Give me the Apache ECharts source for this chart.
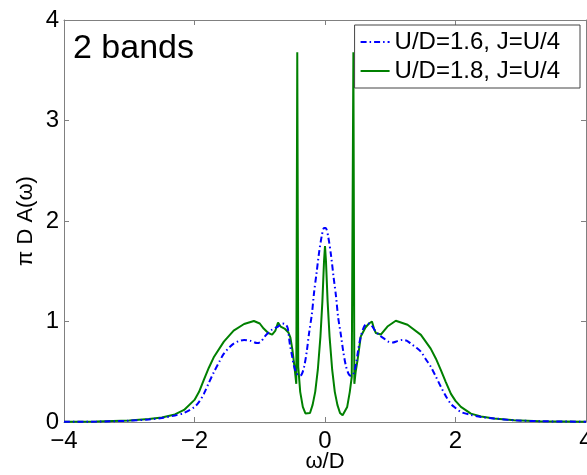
<!DOCTYPE html>
<html>
<head>
<meta charset="utf-8">
<script src="https://cdn.jsdelivr.net/npm/echarts@6/dist/echarts.min.js"></script>
<style>html,body{margin:0;padding:0;background:#fff}#c{width:587px;height:475px}</style>
</head>
<body>
<div id="c"></div>
<script>
// U/D=1.6, J=U/4 (blue dash-dot)
var omegaA = [-4.0,-3.5,-3.0,-2.7,-2.5,-2.3,-2.16,-2.0,-1.93,-1.857,-1.78,-1.70,-1.62,-1.55,-1.47,-1.40,-1.32,-1.24,-1.14,-1.04,-0.98,-0.925,-0.81,-0.72,-0.65,-0.60,-0.57,-0.54,-0.50,-0.476,-0.44,-0.40,-0.36,-0.32,-0.28,-0.245,-0.20,-0.169,-0.13,-0.092,-0.05,-0.015,0.01,0.05,0.092,0.13,0.169,0.20,0.245,0.28,0.32,0.36,0.394,0.43,0.47,0.51,0.548,0.60,0.65,0.70,0.778,0.84,0.906,0.97,1.034,1.11,1.188,1.25,1.315,1.40,1.469,1.55,1.622,1.70,1.776,1.85,1.93,2.0,2.083,2.236,2.39,2.59,2.9,3.3,4.0];
var specA  = [0.002,0.004,0.013,0.025,0.04,0.065,0.09,0.15,0.20,0.28,0.39,0.50,0.60,0.68,0.74,0.78,0.805,0.817,0.807,0.785,0.80,0.85,0.92,0.95,0.98,0.97,0.93,0.78,0.64,0.56,0.49,0.46,0.47,0.55,0.70,0.88,1.08,1.28,1.48,1.68,1.85,1.93,1.93,1.84,1.66,1.45,1.25,1.05,0.86,0.70,0.56,0.48,0.46,0.47,0.56,0.72,0.85,0.95,0.98,0.97,0.90,0.86,0.83,0.80,0.79,0.805,0.817,0.81,0.78,0.74,0.70,0.62,0.55,0.45,0.35,0.26,0.18,0.14,0.10,0.07,0.05,0.035,0.017,0.008,0.002];
// U/D=1.8, J=U/4 (green solid)
var omegaB = [-4.0,-3.5,-3.0,-2.7,-2.5,-2.3,-2.16,-2.0,-1.93,-1.857,-1.78,-1.70,-1.55,-1.40,-1.24,-1.09,-1.0,-0.94,-0.87,-0.81,-0.76,-0.72,-0.68,-0.62,-0.56,-0.53,-0.50,-0.47,-0.44,-0.425,-0.41,-0.38,-0.34,-0.30,-0.27,-0.23,-0.19,-0.15,-0.11,-0.07,-0.04,-0.015,0.0,0.015,0.04,0.07,0.11,0.15,0.19,0.23,0.27,0.30,0.34,0.38,0.41,0.435,0.45,0.47,0.50,0.548,0.62,0.675,0.72,0.75,0.78,0.855,0.957,1.085,1.265,1.47,1.62,1.70,1.776,1.85,1.93,2.0,2.083,2.236,2.39,2.59,2.9,3.3,4.0];
var specB  = [0.002,0.004,0.015,0.03,0.045,0.075,0.12,0.22,0.30,0.42,0.54,0.65,0.80,0.91,0.975,1.005,0.98,0.93,0.885,0.87,0.91,0.99,0.95,0.93,0.89,0.84,0.72,0.56,0.38,3.68,0.55,0.30,0.15,0.085,0.067,0.09,0.17,0.30,0.52,0.85,1.2,1.6,1.75,1.6,1.2,0.85,0.52,0.30,0.17,0.09,0.067,0.085,0.15,0.30,0.45,3.68,0.38,0.50,0.62,0.85,0.94,0.98,1.0,0.93,0.885,0.87,0.95,1.007,0.967,0.867,0.73,0.63,0.517,0.40,0.28,0.21,0.15,0.083,0.055,0.035,0.017,0.008,0.002];
var seriesNames = ['U/D=1.6, J=U/4', 'U/D=1.8, J=U/4'];
var xTicks = {min: -4, max: 4, interval: 2};
var yTicks = {min: 0, max: 4, interval: 1};

function pairs(xs, ys) { return xs.map(function (x, i) { return [x, ys[i]]; }); }
var FONT = '"Liberation Sans", Arial, Helvetica, sans-serif';
var frame = '#808080';
function fmt(v) { return v < 0 ? '\u2212' + (-v) : String(v); }

var chart = echarts.init(document.getElementById('c'), null, {renderer: 'canvas'});
chart.setOption({
  animation: false,
  backgroundColor: '#fff',
  textStyle: {fontFamily: FONT},
  grid: {left: 64, top: 20, right: 1, bottom: 53, containLabel: false, outerBoundsMode: 'none'},
  legend: {
    orient: 'vertical', right: 7, top: 25,
    data: seriesNames,
    backgroundColor: '#fff', borderColor: '#444', borderWidth: 1,
    padding: [5, 20, 5, 5], itemWidth: 29, itemHeight: 14, itemGap: 5,
    itemStyle: {opacity: 0},
    textStyle: {fontSize: 24, color: '#000', fontFamily: FONT}
  },
  graphic: [{
    type: 'text', left: 73, top: 32,
    style: {text: '2 bands', fontSize: 34, fill: '#000', font: '34px ' + FONT}
  }],
  xAxis: [{
    type: 'value', min: xTicks.min, max: xTicks.max, interval: xTicks.interval,
    name: '\u03c9/D', nameLocation: 'middle', nameGap: 29, nameMoveOverlap: false,
    nameTextStyle: {fontSize: 22, color: '#000', fontFamily: FONT},
    axisLine: {show: true, onZero: false, lineStyle: {color: frame, width: 1}},
    axisTick: {show: true, inside: true, length: 5, lineStyle: {color: frame}},
    axisLabel: {fontSize: 24, color: '#000', margin: 7, formatter: fmt, fontFamily: FONT, hideOverlap: false},
    splitLine: {show: false}
  }, {
    type: 'value', position: 'top', min: xTicks.min, max: xTicks.max, interval: xTicks.interval,
    axisLine: {show: true, onZero: false, lineStyle: {color: frame, width: 1}},
    axisTick: {show: true, inside: true, length: 5, lineStyle: {color: frame}},
    axisLabel: {show: false}, splitLine: {show: false}
  }],
  yAxis: [{
    type: 'value', min: yTicks.min, max: yTicks.max, interval: yTicks.interval,
    name: '\u03c0 D A(\u03c9)', nameLocation: 'middle', nameGap: 27, nameMoveOverlap: false,
    nameTextStyle: {fontSize: 22, color: '#000', fontFamily: FONT},
    axisLine: {show: true, onZero: false, lineStyle: {color: frame, width: 1}},
    axisTick: {show: true, inside: true, length: 5, lineStyle: {color: frame}},
    axisLabel: {fontSize: 24, color: '#000', margin: 5, fontFamily: FONT},
    splitLine: {show: false}
  }, {
    type: 'value', position: 'right', min: yTicks.min, max: yTicks.max, interval: yTicks.interval,
    axisLine: {show: true, onZero: false, lineStyle: {color: frame, width: 1}},
    axisTick: {show: true, inside: true, length: 5, lineStyle: {color: frame}},
    axisLabel: {show: false}, splitLine: {show: false}
  }],
  series: [{
    name: seriesNames[0], type: 'line', xAxisIndex: 0, yAxisIndex: 0,
    data: pairs(omegaA, specA), symbol: 'none', smooth: 0.3, z: 3,
    lineStyle: {color: '#0000ff', width: 2, type: [6, 3, 1.5, 3]},
    itemStyle: {color: '#0000ff'}
  }, {
    name: seriesNames[1], type: 'line', xAxisIndex: 0, yAxisIndex: 0,
    data: pairs(omegaB, specB), symbol: 'none', smooth: false, z: 2,
    lineStyle: {color: '#008000', width: 2, type: 'solid'},
    itemStyle: {color: '#008000'}
  }]
});
</script>
</body>
</html>
